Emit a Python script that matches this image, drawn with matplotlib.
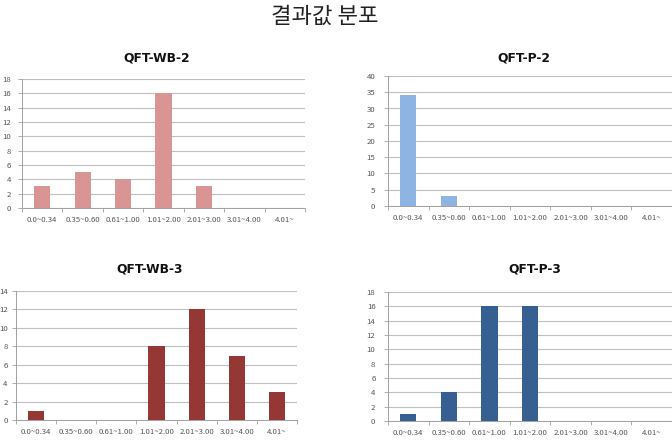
import numpy as np
import matplotlib
matplotlib.use('Agg')
from matplotlib import pyplot as plt

plt.rcParams['font.family'] = ['Noto Sans CJK KR', 'DejaVu Sans']

categories = ['0.0~0.34', '0.35~0.60', '0.61~1.00', '1.01~2.00',
              '2.01~3.00', '3.01~4.00', '4.01~']
wb2 = [3, 5, 4, 16, 3, 0, 0]
p2 = [34, 3, 0, 0, 0, 0, 0]
wb3 = [1, 0, 0, 8, 12, 7, 3]
p3 = [1, 4, 16, 16, 0, 0, 0]

W, H = 672, 444
fig = plt.figure(figsize=(W / 100, H / 100), dpi=100)


def px_axes(x0, x1, ytop, ybot):
    return fig.add_axes([x0 / W, 1 - ybot / H, (x1 - x0) / W, (ybot - ytop) / H])


# (values, color, ymax, ystep, axes box, title, title pos, y label pad)
panels = [
    (wb2, '#d99594', 18, 2, (22, 305, 79, 208), 'QFT-WB-2', (157, 58), 5),
    (p2, '#8db4e2', 40, 5, (388, 672, 76, 206), 'QFT-P-2', (524, 58), 6),
    (wb3, '#953735', 14, 2, (16, 297, 291, 420), 'QFT-WB-3', (150, 269), 3),
    (p3, '#376092', 18, 2, (388, 672, 292, 421), 'QFT-P-3', (535, 269), 6),
]

x = np.arange(len(categories))
for vals, color, ymax, ystep, box, title, tpos, ypad in panels:
    ax = px_axes(*box)
    ax.bar(x, vals, width=0.4, color=color, zorder=3)
    ax.set_xlim(-0.5, len(categories) - 0.5)
    ax.set_ylim(0, ymax)
    ax.set_yticks(np.arange(0, ymax + 1, ystep))
    ax.yaxis.grid(True, color='#c0c0c0', lw=0.8, zorder=0)
    ax.set_xticks(x)
    ax.set_xticklabels(categories)
    ax.set_xticks(np.arange(-0.5, len(categories)), minor=True)
    ax.tick_params(axis='x', which='major', length=0, labelsize=5.6, colors='#555555', pad=6)
    ax.tick_params(axis='x', which='minor', length=3, color='#a0a0a0', width=0.6)
    ax.tick_params(axis='y', length=3, color='#a0a0a0', width=0.6, labelsize=5.6,
                   labelcolor='#555555', pad=ypad)
    for s in ('top', 'right'):
        ax.spines[s].set_visible(False)
    for s in ('left', 'bottom'):
        ax.spines[s].set_color('#a0a0a0')
        ax.spines[s].set_linewidth(0.7)
    fig.text(tpos[0] / W, 1 - tpos[1] / H, title, ha='center', va='center',
             fontsize=8.8, fontweight='bold', family='DejaVu Sans', color='#111111')

fig.text(325 / W, 1 - 16 / H, '결과값 분포', ha='center', va='center', fontsize=16,
         color='#222222')

fig.savefig('out.png', dpi=100)
